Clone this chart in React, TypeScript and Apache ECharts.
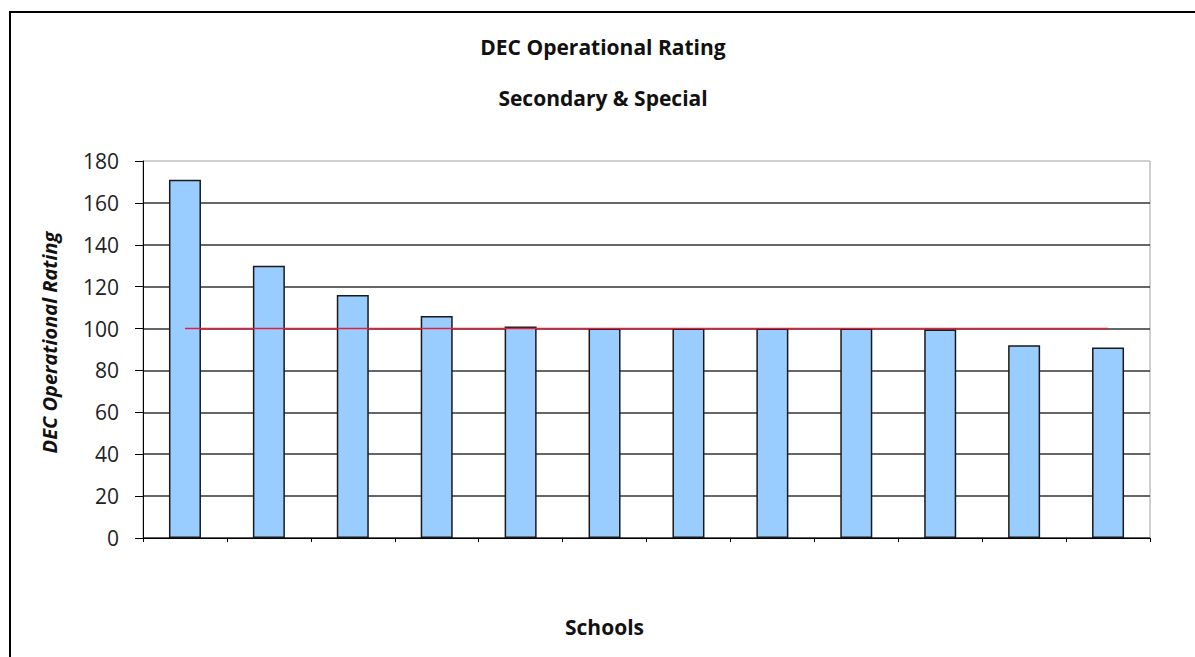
import React, { useEffect, useRef } from "react";
import * as echarts from "echarts";

const categories = ["1", "2", "3", "4", "5", "6", "7", "8", "9", "10", "11", "12"];
const ratings = [171, 130, 116, 106, 101, 100, 100, 100, 100, 99.5, 92, 91];
const benchmark = [100, 100, 100, 100, 100, 100, 100, 100, 100, 100, 100, 100];
const yTicks = { min: 0, max: 180, interval: 20 };
const titleText = "DEC Operational Rating";
const subtitleText = "Secondary & Special";
const yName = "DEC Operational Rating";
const xName = "Schools";

const FONT = "'Open Sans', 'Liberation Sans', sans-serif";

export default function App() {
  const ref = useRef<HTMLDivElement>(null);
  useEffect(() => {
    if (!ref.current) return;
    const chart = echarts.init(ref.current, null, { renderer: "svg" });
    chart.setOption({
      animation: false,
      backgroundColor: "#ffffff",
      title: [
        {
          text: titleText,
          left: 598,
          textAlign: "center",
          top: 31,
          textStyle: { fontFamily: FONT, fontSize: 21, fontWeight: "bold", color: "#111" },
        },
        {
          text: subtitleText,
          left: 598,
          textAlign: "center",
          top: 82,
          textStyle: { fontFamily: FONT, fontSize: 21, fontWeight: "bold", color: "#111" },
        },
      ],
      graphic: [
        {
          type: "rect",
          shape: { x: 10, y: 12, width: 1300, height: 800 },
          style: { fill: "none", stroke: "#000", lineWidth: 2 },
          silent: true,
        },
      ],
      grid: {
        left: 143,
        top: 161,
        right: 45,
        bottom: 119,
        show: true,
        borderColor: "#a0a0a0",
        borderWidth: 1,
        backgroundColor: "transparent",
      },
      xAxis: {
        type: "category",
        data: categories,
        boundaryGap: true,
        name: xName,
        nameLocation: "middle",
        nameGap: 78,
        nameTextStyle: {
          fontFamily: FONT,
          fontSize: 21,
          fontWeight: "bold",
          color: "#111",
          padding: [0, 84, 0, 0],
        },
        axisLine: { show: true, lineStyle: { color: "#000", width: 1 } },
        axisTick: { show: true, inside: false, length: 4, lineStyle: { color: "#000" } },
        axisLabel: { show: false },
        splitLine: { show: false },
      },
      yAxis: {
        type: "value",
        min: yTicks.min,
        max: yTicks.max,
        interval: yTicks.interval,
        name: yName,
        nameLocation: "middle",
        nameGap: 84,
        nameTextStyle: {
          fontFamily: FONT,
          fontSize: 20,
          fontWeight: "bold",
          fontStyle: "italic",
          color: "#111",
          padding: [0, 0, 0, 14],
        },
        axisLine: { show: true, lineStyle: { color: "#000", width: 1 } },
        axisTick: { show: true, inside: false, length: 8, lineStyle: { color: "#000" } },
        axisLabel: { fontFamily: FONT, fontSize: 21, color: "#222", margin: 24 },
        splitLine: { show: true, showMaxLine: false, lineStyle: { color: "#333", width: 1.5 } },
      },
      series: [
        {
          type: "bar",
          data: ratings,
          barWidth: 32,
          itemStyle: { color: "#99ccff", borderColor: "#1a1a1a", borderWidth: 1.5 },
          z: 2,
        },
        {
          type: "line",
          data: benchmark,
          showSymbol: false,
          symbol: "none",
          lineStyle: { color: "#e0203c", width: 1.5 },
          z: 3,
        },
      ],
    });
    return () => chart.dispose();
  }, []);
  return (
    <div
      ref={ref}
      style={{ position: "fixed", left: 0, top: 0, width: 1195, height: 657 }}
    />
  );
}
